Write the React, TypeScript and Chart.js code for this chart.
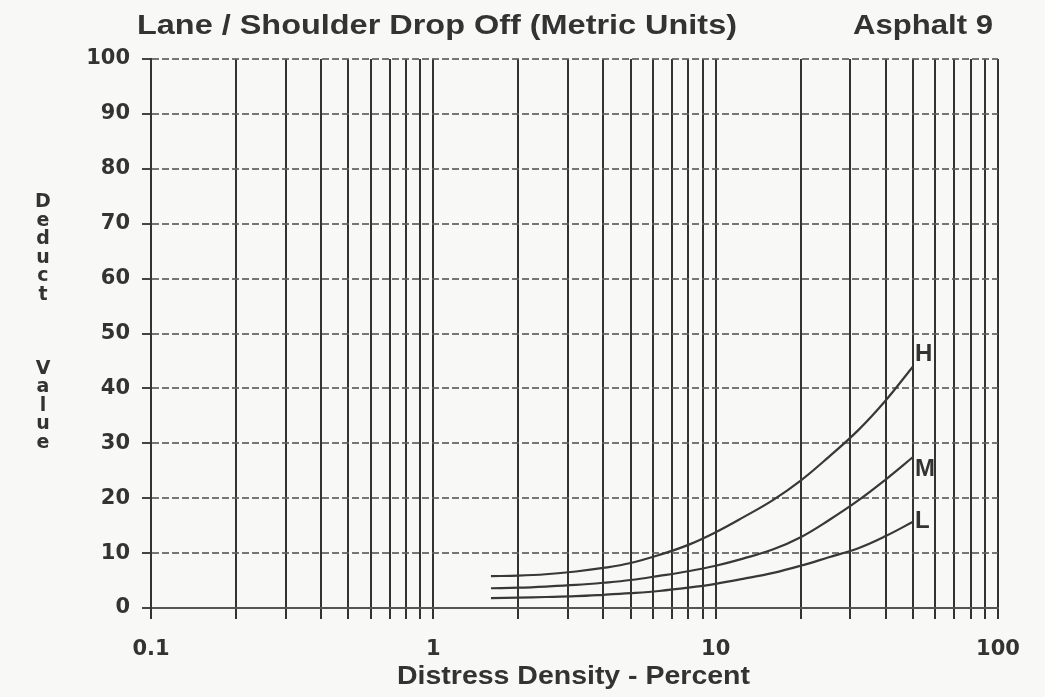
import React, { useEffect, useRef } from "react";
import { Chart, registerables } from "chart.js";

Chart.register(...registerables);

// ---- data ----
const densityX = [1.6, 2, 2.5, 3.2, 4, 5, 6.3, 8, 10, 12.5, 16, 20, 25, 32, 40, 50];
const highValues = [5.8, 5.9, 6.15, 6.65, 7.3, 8.2, 9.65, 11.5, 13.8, 16.5, 19.7, 23.2, 27.4, 32.4, 37.8, 44.0];
const mediumValues = [3.6, 3.7, 3.9, 4.2, 4.6, 5.1, 5.85, 6.7, 7.7, 9.0, 10.7, 12.9, 15.9, 19.6, 23.4, 27.5];
const lowValues = [1.8, 1.9, 2.0, 2.15, 2.4, 2.7, 3.1, 3.7, 4.4, 5.3, 6.4, 7.7, 9.2, 10.9, 13.1, 15.7];
const seriesNames = ["H", "M", "L"];
const xGridValues = [
  0.1, 0.2, 0.3, 0.4, 0.5, 0.6, 0.7, 0.8, 0.9,
  1, 2, 3, 4, 5, 6, 7, 8, 9,
  10, 20, 30, 40, 50, 60, 70, 80, 90, 100,
];
const xTickValues = [0.1, 1, 10, 100];
const xTickLabels = ["0.1", "1", "10", "100"];
const titleText = "Lane / Shoulder Drop Off (Metric Units)";
const subtitleText = "Asphalt 9";
const xTitle = "Distress Density - Percent";
const yTitle = "Deduct   Value";

const INK = "#333333";
const labelDy = [-12, 12, 0];

function fitText(ctx: CanvasRenderingContext2D, text: string, x: number, y: number, target: number) {
  const w = ctx.measureText(text).width;
  ctx.save();
  ctx.translate(x, y);
  ctx.scale(target / w, 1);
  ctx.textAlign = "left";
  ctx.fillText(text, 0, 0);
  ctx.restore();
}

const decorPlugin = {
  id: "decor",
  beforeDraw(chart: any) {
    const ctx = chart.ctx;
    ctx.save();
    ctx.fillStyle = "#f8f8f6";
    ctx.fillRect(0, 0, chart.width, chart.height);
    ctx.restore();
  },
  afterDraw(chart: any) {
    const ctx: CanvasRenderingContext2D = chart.ctx;
    ctx.save();
    ctx.fillStyle = INK;
    ctx.textBaseline = "alphabetic";
    ctx.font = "bold 27px 'Liberation Sans', Arial, sans-serif";
    fitText(ctx, titleText, 137, 34, 600);
    fitText(ctx, subtitleText, 853, 34, 140);
    ctx.font = "bold 25px 'Liberation Sans', Arial, sans-serif";
    fitText(ctx, xTitle, 397, 684, 353);

    ctx.font = "bold 19px 'DejaVu Sans', sans-serif";
    ctx.textAlign = "center";
    const chars = yTitle.split("");
    chars.forEach((c, i) => {
      if (c !== " ") ctx.fillText(c, 43, 207 + i * 18.5);
    });

    // series end labels
    ctx.font = "bold 24px 'Liberation Sans', Arial, sans-serif";
    ctx.textAlign = "left";
    ctx.textBaseline = "middle";
    chart.data.datasets.forEach((ds: any, i: number) => {
      const meta = chart.getDatasetMeta(i);
      const last = meta.data[meta.data.length - 1];
      ctx.fillText(seriesNames[i], last.x + 2, last.y + labelDy[i]);
    });
    ctx.restore();
  },
};

export default function App() {
  const ref = useRef<HTMLCanvasElement | null>(null);
  useEffect(() => {
    if (!ref.current) return;
    const mk = (vals: number[]) => densityX.map((x, i) => ({ x, y: vals[i] }));
    const lineStyle = {
      borderColor: "#383838",
      borderWidth: 2.2,
      pointRadius: 0,
      fill: false,
      tension: 0.4,
    };
    const chart = new Chart(ref.current, {
      type: "line",
      data: {
        datasets: [
          { label: seriesNames[0], data: mk(highValues), ...lineStyle },
          { label: seriesNames[1], data: mk(mediumValues), ...lineStyle },
          { label: seriesNames[2], data: mk(lowValues), ...lineStyle },
        ],
      },
      options: {
        animation: false,
        responsive: false,
        layout: { padding: { top: 59, right: 47, left: 0, bottom: 0 } },
        plugins: { legend: { display: false }, tooltip: { enabled: false }, title: { display: false } },
        scales: {
          x: {
            type: "logarithmic",
            min: 0.1,
            max: 100,
            afterBuildTicks: (scale: any) => {
              scale.ticks = xGridValues.map((v) => ({ value: v }));
            },
            afterFit: (scale: any) => {
              scale.height = 89;
            },
            ticks: {
              autoSkip: false,
              maxRotation: 0,
              minRotation: 0,
              padding: 18,
              color: INK,
              font: { family: "'DejaVu Sans', sans-serif", weight: "bold", size: 21 },
              callback: (v: any) => {
                const idx = xTickValues.findIndex((t) => Math.abs(t - Number(v)) < 1e-9);
                return idx >= 0 ? xTickLabels[idx] : "";
              },
            },
            grid: { color: "#333333", lineWidth: 2, tickLength: 11, tickColor: "#333333", drawOnChartArea: true },
            border: { display: true, color: "#555555", width: 2 },
          },
          y: {
            min: 0,
            max: 100,
            afterFit: (scale: any) => {
              scale.width = 151;
            },
            ticks: {
              stepSize: 10,
              padding: 12,
              color: INK,
              font: { family: "'DejaVu Sans', sans-serif", weight: "bold", size: 21 },
            },
            grid: { color: "rgba(95,95,95,0.85)", lineWidth: 2, tickLength: 9, tickColor: "#444444" },
            border: { display: true, color: "#333333", width: 2, dash: [7, 3] },
          },
        },
      },
      plugins: [decorPlugin],
    });
    return () => chart.destroy();
  }, []);
  return (
    <div style={{ position: "absolute", left: 0, top: 0, width: 1045, height: 697 }}>
      <canvas ref={ref} width={1045} height={697} style={{ display: "block" }} />
    </div>
  );
}
